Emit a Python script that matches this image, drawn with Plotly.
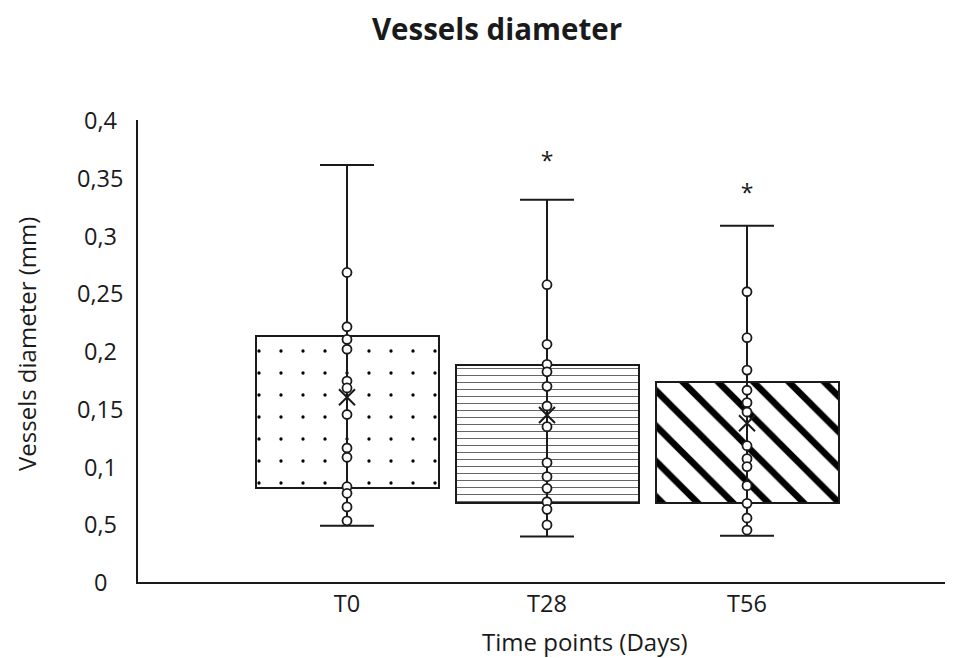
import plotly.graph_objects as go

categories = ["T0", "T28", "T56"]
q1 = [0.0817, 0.0681, 0.0681]
q3 = [0.213, 0.188, 0.1734]
whisker_low = [0.0488, 0.0393, 0.0401]
whisker_high = [0.361, 0.331, 0.3085]
means = [0.160, 0.1446, 0.1374]
points = {
    "T0": [0.268, 0.221, 0.210, 0.2015, 0.174, 0.168, 0.145, 0.116, 0.108, 0.0825, 0.0768, 0.065, 0.053],
    "T28": [0.2574, 0.2058, 0.1885, 0.182, 0.1694, 0.1524, 0.1345, 0.1033, 0.0912, 0.0811, 0.0695, 0.0629, 0.0494],
    "T56": [0.2513, 0.2115, 0.1835, 0.166, 0.1553, 0.1472, 0.118, 0.1068, 0.0999, 0.0834, 0.0681, 0.0554, 0.045],
}
sig_cats = ["T28", "T56"]
sig_y = [0.3625, 0.3345]
y_tickvals = [0, 0.05, 0.1, 0.15, 0.2, 0.25, 0.3, 0.35, 0.4]
y_ticktext = ["0", "0,5", "0,1", "0,15", "0,2", "0,25", "0,3", "0,35", "0,4"]

FONT = "Open Sans"
INK = "#1a1a1a"
W, H = 945, 650          # page adds an 8px body margin
ML, MR, MT, MB = 130, 0, 112, 76
PLOT_W = W - ML - MR
PLOT_H = H - MT - MB

patterns = [
    dict(shape=".", size=22, solidity=0.018, fgcolor="black", bgcolor="white", fgopacity=1, fillmode="replace"),
    dict(shape="-", size=7, solidity=0.15, fgcolor="#666666", bgcolor="white", fgopacity=1, fillmode="replace"),
    dict(shape="\\", size=25, solidity=0.26, fgcolor="black", bgcolor="white", fgopacity=1, fillmode="replace"),
]

fig = go.Figure()
for i, c in enumerate(categories):
    fig.add_trace(go.Bar(
        x=[c], y=[q3[i] - q1[i]], base=[q1[i]], width=0.915,
        marker=dict(color="white", line=dict(color=INK, width=2), pattern=patterns[i]),
        showlegend=False, hoverinfo="skip",
    ))

mid = [(a + b) / 2 for a, b in zip(whisker_low, whisker_high)]
half = [(b - a) / 2 for a, b in zip(whisker_low, whisker_high)]
fig.add_trace(go.Scatter(
    x=categories, y=mid, mode="markers",
    marker=dict(size=1, color="rgba(0,0,0,0)"),
    error_y=dict(type="data", array=half, symmetric=True, width=27, thickness=2, color=INK),
    showlegend=False, hoverinfo="skip",
))

for c in categories:
    fig.add_trace(go.Scatter(
        x=[c] * len(points[c]), y=points[c], mode="markers",
        marker=dict(symbol="circle", size=9, color="white", line=dict(color=INK, width=1.8)),
        showlegend=False,
    ))

fig.add_trace(go.Scatter(
    x=categories, y=means, mode="markers",
    marker=dict(symbol="x-thin", size=16, line=dict(color=INK, width=2)),
    showlegend=False,
))

fig.add_trace(go.Scatter(
    x=sig_cats, y=sig_y, mode="text", text=["*", "*"],
    textfont=dict(family=FONT, size=23, color=INK),
    showlegend=False,
))

# centred y tick labels (as in the reference)
for v, t in zip(y_tickvals, y_ticktext):
    fig.add_annotation(
        x=-(38 / PLOT_W), xref="paper", y=v, yref="y", text=t, showarrow=False,
        xanchor="center", yanchor="middle", font=dict(family=FONT, size=23.5, color=INK),
    )

# axis titles placed as in the reference
fig.add_annotation(
    x=(584.5 - 138) / PLOT_W, xref="paper", y=-(641 - 582) / PLOT_H, yref="paper",
    text="Time points (Days)", showarrow=False, xanchor="center", yanchor="middle",
    font=dict(family=FONT, size=24, color=INK),
)
fig.add_annotation(
    x=(26 - 138) / PLOT_W, xref="paper", y=(582 - 344) / PLOT_H, yref="paper",
    text="Vessels diameter (mm)", textangle=-90, showarrow=False,
    xanchor="center", yanchor="middle", font=dict(family=FONT, size=24, color=INK),
)

fig.update_layout(
    width=W, height=H,
    margin=dict(l=ML, r=MR, t=MT, b=MB, autoexpand=False),
    paper_bgcolor="white", plot_bgcolor="white",
    font=dict(family=FONT, size=23.5, color=INK),
    title=dict(text="<b>Vessels diameter</b>", x=489 / W, xanchor="center", xref="container",
               y=1 - 22 / H, yanchor="middle", yref="container",
               font=dict(size=29.5, family=FONT, color=INK), automargin=False),
    bargap=0,
)
fig.update_xaxes(
    type="category", categoryorder="array", categoryarray=categories,
    range=[-1.045, 3.03], showline=True, linecolor=INK, linewidth=2,
    showgrid=False, zeroline=False, ticks="", ticklabelstandoff=0, automargin=False,
    tickfont=dict(family=FONT, size=23.5, color=INK),
)
fig.update_yaxes(
    range=[0, 0.4], tickvals=y_tickvals, showticklabels=False,
    showline=True, linecolor=INK, linewidth=2,
    showgrid=False, zeroline=False, ticks="", automargin=False,
)

fig.write_html("out.html")
